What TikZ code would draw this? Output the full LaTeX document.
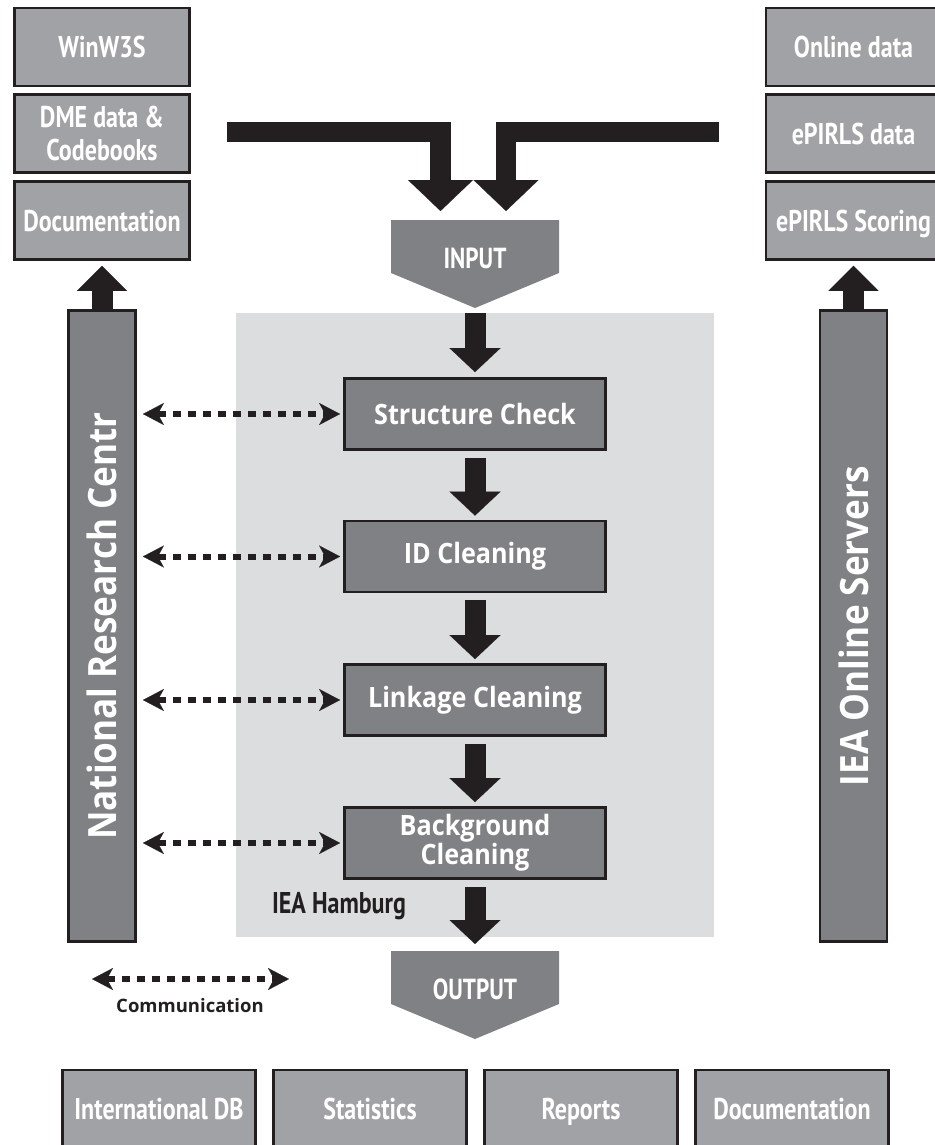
\documentclass[tikz,border=0pt]{standalone}
\usepackage{fontspec}
\setmainfont{Open Sans}
\newfontfamily\stepfont[FakeStretch=0.9]{Open Sans}
\newfontfamily\narrowfont[FakeStretch=0.8]{PT Sans}
\usetikzlibrary{calc,arrows.meta}
\definecolor{boxlight}{RGB}{161,162,165}
\definecolor{boxdark}{RGB}{128,129,132}
\definecolor{hamburg}{RGB}{220,221,222}
\definecolor{ink}{RGB}{35,31,32}

\begin{document}
\begin{tikzpicture}[x=1pt,y=-1pt,
	lightbox/.style={draw=ink,line width=2.8pt,fill=boxlight,minimum width=175pt,minimum height=78pt,inner sep=0pt,text=white,align=center,font=\narrowfont\bfseries\fontsize{30}{33}\selectfont},
	oneline/.style={text height=21pt,text depth=0pt},
	stepbox/.style={draw=ink,line width=2.8pt,fill=boxdark,minimum width=261pt,minimum height=71pt,inner sep=0pt,text=white,align=center,font=\stepfont\bfseries\fontsize{28}{27}\selectfont},
	sidebar/.style={draw=ink,line width=2.8pt,fill=boxdark,minimum width=67pt,minimum height=631pt,inner sep=0pt,text=white,font=\stepfont\bfseries\fontsize{39}{40}\selectfont},
	flowarrow/.style={draw=ink,line width=21pt,-{Triangle[length=24pt,width=51pt,line width=0.1pt]}},
	uparrow/.style={draw=ink,line width=21pt,-{Triangle[length=25pt,width=50pt,line width=0.1pt]}},
	feedarrow/.style={draw=ink,line width=20.5pt,line join=miter,-{Triangle[length=31pt,width=65pt,line width=0.1pt]}},
	commarrow/.style={draw=ink,line width=6pt,dash pattern=on 8pt off 7pt,{Stealth[length=21pt,width=22pt,inset=6pt,line width=0.1pt]}-{Stealth[length=21pt,width=22pt,inset=6pt,line width=0.1pt]}},
	]
	\useasboundingbox (0,0) rectangle (934,1145);
	\path
	(475,220) coordinate (inputtop)
	(475,308) coordinate (inputtip)
	(475,951) coordinate (outputtop)
	(475,1039) coordinate (outputtip)
	(227,132) coordinate (feedL)
	(719,132) coordinate (feedR)
	(92,979) coordinate (commL)
	(289,979) coordinate (commR)
	;
	% IEA Hamburg area
	\fill[hamburg] (236,313) rectangle (714,937);
	\node[font=\narrowfont\bfseries\fontsize{30}{30}\selectfont,text=ink] (hamburg) at (339,906) {IEA Hamburg};
	
	% sources
	\node[lightbox,oneline] (winw) at (102,47) {WinW3S};
	\node[lightbox] (dme) at (102,133.5) {DME data \&\\Codebooks};
	\node[lightbox,oneline] (ldoc) at (102,220.5) {Documentation};
	\node[lightbox,oneline] (online) at (853.5,47) {Online data};
	\node[lightbox,oneline] (epdata) at (853.5,133.5) {ePIRLS data};
	\node[lightbox,oneline] (epscore) at (853.5,220.5) {ePIRLS Scoring};
	
	\node[sidebar] (nrc) at (102,626) {\rotatebox{90}{National Research Centr}};
	\node[sidebar] (ieaos) at (853.5,626) {\rotatebox{90}{IEA Online Servers}};
	
	% input and output
	\fill[boxdark] (inputtop)+(-84,0) -- +(84,0) -- +(84,53) -- (inputtip) -- +(-84,-35) -- cycle;
	\node[text=white,font=\narrowfont\bfseries\fontsize{29}{30}\selectfont] (input) at (475,258) {INPUT};
	\fill[boxdark] (outputtop)+(-84,0) -- +(84,0) -- +(84,53) -- (outputtip) -- +(-84,-35) -- cycle;
	\node[text=white,font=\narrowfont\bfseries\fontsize{29}{30}\selectfont] (output) at (475,989) {OUTPUT};
	
	% cleaning steps
	\node[stepbox] (sc) at (475,414) {Structure Check};
	\node[stepbox] (idc) at (475,556.5) {ID Cleaning};
	\node[stepbox] (lc) at (475,700) {Linkage Cleaning};
	\node[stepbox] (bc) at (475,843) {Background\\Cleaning};
	
	% results
	\node[lightbox,oneline,minimum width=193pt] (intdb) at (159,1109) {International DB};
	\node[lightbox,oneline,minimum width=193pt] (stat) at (370,1109) {Statistics};
	\node[lightbox,oneline,minimum width=193pt] (rep) at (581,1109) {Reports};
	\node[lightbox,oneline,minimum width=193pt] (rdoc) at (792,1109) {Documentation};
	
	% arrows
	\draw[feedarrow] (feedL) -| ($(inputtop)+(-34.5,-9)$);
	\draw[feedarrow] (feedR) -| ($(inputtop)+(31,-9)$);
	\draw[uparrow,shorten >=5pt] (nrc.north) -- (ldoc.south);
	\draw[uparrow,shorten >=5pt] (ieaos.north) -- (epscore.south);
	\draw[flowarrow,shorten <=5pt,shorten >=5pt] (inputtip) -- (sc);
	\draw[flowarrow,shorten <=7pt,shorten >=4pt] (sc) -- (idc);
	\draw[flowarrow,shorten <=7pt,shorten >=4pt] (idc) -- (lc);
	\draw[flowarrow,shorten <=7pt,shorten >=4pt] (lc) -- (bc);
	\draw[flowarrow,shorten <=7pt,shorten >=7pt] (bc) -- (outputtop);
	\draw[commarrow,shorten <=6pt,shorten >=3pt] (nrc.east |- sc) -- (sc.west);
	\draw[commarrow,shorten <=6pt,shorten >=3pt] (nrc.east |- idc) -- (idc.west);
	\draw[commarrow,shorten <=6pt,shorten >=3pt] (nrc.east |- lc) -- (lc.west);
	\draw[commarrow,shorten <=6pt,shorten >=3pt] (nrc.east |- bc) -- (bc.west);
	
	% legend
	\draw[commarrow] (commL) -- (commR);
	\node[text=ink,font=\bfseries\fontsize{18.5}{20}\selectfont] (commtext) at (190,1006) {Communication};
\end{tikzpicture}
\end{document}
